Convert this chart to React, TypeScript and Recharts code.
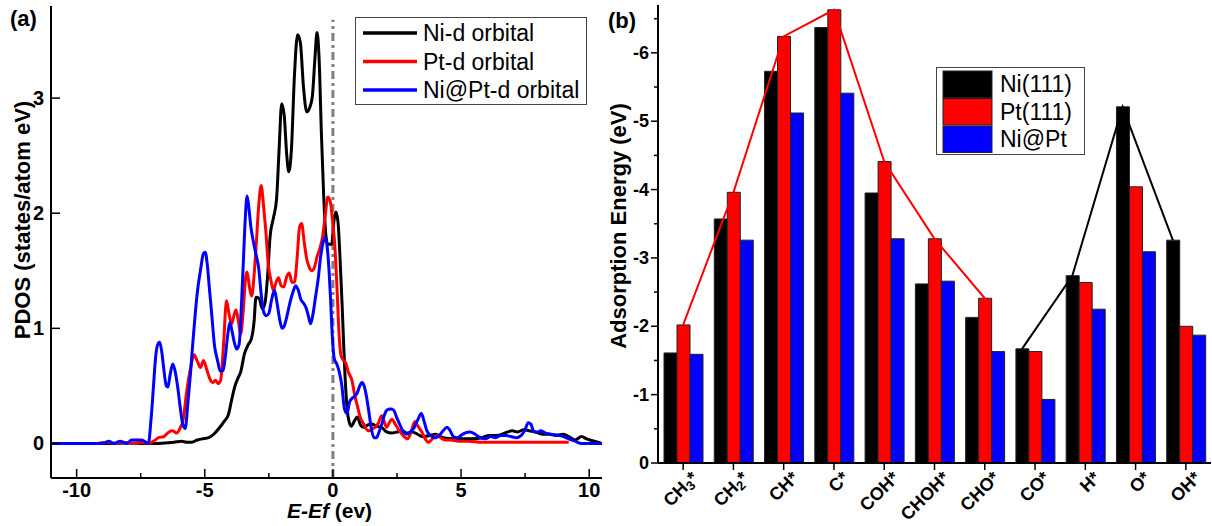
import React from 'react';
import { LineChart, Line, XAxis, YAxis, ReferenceLine, Legend, ComposedChart, Bar } from 'recharts';

const FONT = 'Arial, "Liberation Sans", Helvetica, sans-serif';

// ---------- Panel (a): PDOS ----------
const pdosSeriesNames = ['Ni-d orbital', 'Pt-d orbital', 'Ni@Pt-d orbital'];
const pdosColors = ['#000000', '#ff0000', '#0000ff'];
const energyTicks = [-10, -7.5, -5, -2.5, 0, 2.5, 5, 7.5, 10];
const pdosTicks = [0, 1, 2, 3];

const niD: [number, number][] = [
  [-11, 0], [-9, 0], [-8, 0.005], [-7.3, 0], [-7, 0], [-6.5, 0.005], [-6.2, 0.01], [-5.9, 0.02], [-5.7, 0.01],
  [-5.5, 0.01], [-5.3, 0.03], [-5.1, 0.04], [-4.85, 0.05], [-4.65, 0.08], [-4.45, 0.13], [-4.25, 0.19],
  [-4.08, 0.25], [-3.95, 0.38], [-3.82, 0.5], [-3.7, 0.57], [-3.6, 0.62], [-3.45, 0.78], [-3.3, 0.86],
  [-3.18, 0.91], [-3.08, 1.05], [-3.0, 1.27], [-2.88, 1.26], [-2.75, 1.17], [-2.65, 1.22], [-2.55, 1.45],
  [-2.45, 1.8], [-2.32, 1.96], [-2.2, 2.12], [-2.1, 2.55], [-2.0, 2.95], [-1.9, 2.85], [-1.8, 2.5],
  [-1.72, 2.36], [-1.62, 2.55], [-1.5, 3.2], [-1.38, 3.55], [-1.27, 3.48], [-1.15, 3.1], [-1.02, 2.88],
  [-0.9, 2.92], [-0.8, 3.02], [-0.7, 3.35], [-0.62, 3.57], [-0.54, 3.35], [-0.45, 2.7], [-0.36, 2.15],
  [-0.27, 1.8], [-0.2, 1.73], [-0.05, 1.73], [0.05, 1.95], [0.12, 2.01], [0.2, 1.92], [0.28, 1.6],
  [0.36, 1.2], [0.44, 0.75], [0.52, 0.4], [0.62, 0.2], [0.72, 0.15], [0.85, 0.2], [0.95, 0.23], [1.08, 0.16],
  [1.2, 0.14], [1.35, 0.16], [1.52, 0.17], [1.7, 0.15], [1.9, 0.14], [2.1, 0.1], [2.3, 0.09], [2.5, 0.1],
  [2.7, 0.11], [2.9, 0.09], [3.1, 0.1], [3.3, 0.08], [3.5, 0.06], [3.8, 0.07], [4.0, 0.08], [4.3, 0.05],
  [4.7, 0.04], [5.0, 0.04], [5.4, 0.04], [5.8, 0.05], [6.1, 0.07], [6.4, 0.07], [6.7, 0.09], [7.0, 0.11],
  [7.2, 0.1], [7.45, 0.12], [7.65, 0.11], [7.9, 0.1], [8.2, 0.08], [8.45, 0.08], [8.7, 0.07], [9.0, 0.08],
  [9.2, 0.06], [9.45, 0.03], [9.7, 0.06], [9.9, 0.04], [10.2, 0.02], [10.5, 0],
];

const ptD: [number, number][] = [
  [-9.2, 0], [-8.8, 0.01], [-8.5, 0], [-8.2, 0.01], [-7.8, 0], [-7.5, 0.01], [-7.2, 0], [-7.0, 0.02],
  [-6.8, 0.05], [-6.6, 0.06], [-6.4, 0.1], [-6.25, 0.11], [-6.1, 0.09], [-5.95, 0.14], [-5.85, 0.2],
  [-5.7, 0.46], [-5.55, 0.66], [-5.42, 0.77], [-5.3, 0.72], [-5.17, 0.66], [-5.05, 0.72], [-4.92, 0.64],
  [-4.8, 0.56], [-4.68, 0.53], [-4.58, 0.55], [-4.48, 0.52], [-4.38, 0.55], [-4.27, 0.85], [-4.15, 1.24],
  [-4.05, 1.12], [-3.95, 1.04], [-3.85, 1.12], [-3.78, 1.16], [-3.68, 1.05], [-3.6, 0.95], [-3.5, 1.15],
  [-3.4, 1.45], [-3.35, 1.49], [-3.25, 1.35], [-3.17, 1.28], [-3.08, 1.45], [-3.0, 1.7], [-2.9, 2.05],
  [-2.8, 2.24], [-2.7, 2.05], [-2.62, 1.85], [-2.52, 1.55], [-2.42, 1.42], [-2.32, 1.33], [-2.22, 1.4],
  [-2.12, 1.44], [-2.02, 1.37], [-1.92, 1.36], [-1.8, 1.45], [-1.7, 1.48], [-1.6, 1.4], [-1.5, 1.4],
  [-1.4, 1.6], [-1.3, 1.88], [-1.22, 1.91], [-1.12, 1.75], [-1.02, 1.6], [-0.92, 1.53], [-0.82, 1.5],
  [-0.72, 1.53], [-0.62, 1.62], [-0.5, 1.7], [-0.4, 1.8], [-0.3, 1.98], [-0.2, 2.14], [-0.1, 2.1],
  [-0.02, 1.95], [0.08, 1.7], [0.16, 1.35], [0.24, 0.95], [0.32, 0.76], [0.42, 0.72], [0.5, 0.7],
  [0.6, 0.62], [0.74, 0.55], [0.85, 0.42], [0.95, 0.33], [1.08, 0.22], [1.2, 0.17], [1.32, 0.12],
  [1.42, 0.11], [1.55, 0.13], [1.65, 0.14], [1.78, 0.18], [1.9, 0.24], [2.0, 0.19], [2.1, 0.14], [2.2, 0.18],
  [2.3, 0.21], [2.45, 0.16], [2.62, 0.1], [2.78, 0.06], [2.92, 0.04], [3.05, 0.1], [3.2, 0.19], [3.32, 0.15],
  [3.47, 0.1], [3.6, 0.04], [3.73, 0.01], [3.88, 0.04], [4.06, 0.07], [4.2, 0.05], [4.38, 0.03], [4.6, 0.03],
  [4.9, 0.02], [5.3, 0.02], [5.8, 0.01], [6.3, 0.01], [7, 0.01], [8, 0.01], [9.2, 0.01],
];

const niPtD: [number, number][] = [
  [-11, 0], [-9.2, 0], [-8.9, 0.005], [-8.75, 0.02], [-8.55, 0], [-8.3, 0.02], [-8.05, 0], [-7.85, 0.03],
  [-7.6, 0.03], [-7.45, 0.03], [-7.3, 0.01], [-7.2, 0], [-7.1, 0.2], [-7.0, 0.5], [-6.93, 0.72],
  [-6.85, 0.85], [-6.76, 0.88], [-6.68, 0.8], [-6.6, 0.65], [-6.5, 0.5], [-6.44, 0.49], [-6.35, 0.6],
  [-6.25, 0.69], [-6.15, 0.62], [-6.05, 0.48], [-5.95, 0.3], [-5.85, 0.16], [-5.76, 0.13], [-5.66, 0.35],
  [-5.56, 0.6], [-5.45, 0.92], [-5.37, 1.13], [-5.27, 1.35], [-5.17, 1.5], [-5.05, 1.65], [-4.98, 1.66],
  [-4.9, 1.55], [-4.82, 1.35], [-4.72, 1.1], [-4.62, 0.85], [-4.5, 0.72], [-4.4, 0.63], [-4.3, 0.63],
  [-4.2, 0.75], [-4.1, 0.95], [-4.02, 1.05], [-3.94, 0.98], [-3.85, 0.88], [-3.75, 0.82], [-3.66, 0.86],
  [-3.58, 1.15], [-3.5, 1.55], [-3.42, 1.95], [-3.35, 2.15], [-3.28, 2.05], [-3.2, 1.88], [-3.1, 1.75],
  [-3.0, 1.64], [-2.9, 1.53], [-2.8, 1.3], [-2.7, 1.14], [-2.6, 1.11], [-2.5, 1.13], [-2.4, 1.24],
  [-2.28, 1.33], [-2.18, 1.22], [-2.08, 1.08], [-1.98, 1.0], [-1.9, 1.02], [-1.8, 1.1], [-1.7, 1.2],
  [-1.58, 1.3], [-1.45, 1.37], [-1.35, 1.33], [-1.25, 1.25], [-1.15, 1.22], [-1.05, 1.18], [-0.95, 1.1],
  [-0.87, 1.04], [-0.78, 1.12], [-0.68, 1.27], [-0.58, 1.42], [-0.48, 1.62], [-0.38, 1.75], [-0.3, 1.79],
  [-0.22, 1.7], [-0.15, 1.5], [-0.08, 1.2], [-0.02, 0.92], [0.05, 0.74], [0.15, 0.69], [0.25, 0.62],
  [0.35, 0.5], [0.45, 0.3], [0.55, 0.26], [0.65, 0.36], [0.74, 0.39], [0.85, 0.41], [0.95, 0.44],
  [1.05, 0.5], [1.13, 0.53], [1.22, 0.5], [1.3, 0.42], [1.4, 0.28], [1.5, 0.13], [1.6, 0.05], [1.7, 0.05],
  [1.8, 0.1], [1.91, 0.17], [2.0, 0.24], [2.11, 0.29], [2.25, 0.3], [2.37, 0.29], [2.5, 0.22], [2.62, 0.16],
  [2.75, 0.1], [2.89, 0.08], [3.02, 0.1], [3.15, 0.13], [3.3, 0.2], [3.45, 0.26], [3.55, 0.2], [3.65, 0.12],
  [3.8, 0.07], [4.0, 0.05], [4.15, 0.07], [4.3, 0.11], [4.45, 0.14], [4.55, 0.12], [4.7, 0.06], [4.85, 0.05],
  [5.0, 0.07], [5.15, 0.09], [5.35, 0.1], [5.55, 0.08], [5.75, 0.05], [5.95, 0.04], [6.15, 0.06],
  [6.35, 0.05], [6.55, 0.07], [6.75, 0.07], [6.95, 0.06], [7.15, 0.05], [7.35, 0.07], [7.5, 0.12],
  [7.62, 0.18], [7.72, 0.17], [7.85, 0.1], [8.0, 0.1], [8.1, 0.11], [8.3, 0.09], [8.5, 0.08], [8.8, 0.07],
  [9.0, 0.06], [9.2, 0.04], [9.45, 0.02], [9.7, 0], [10.5, 0],
];

// ---------- Panel (b): adsorption energies ----------
const adsorbates = ['CH3*', 'CH2*', 'CH*', 'C*', 'COH*', 'CHOH*', 'CHO*', 'CO*', 'H*', 'O*', 'OH*'];
const ni111 = [-1.61, -3.57, -5.73, -6.37, -3.95, -2.62, -2.13, -1.67, -2.74, -5.21, -3.26];
const pt111 = [-2.02, -3.96, -6.24, -6.63, -4.41, -3.28, -2.41, -1.63, -2.64, -4.04, -2.0];
const niAtPt = [-1.59, -3.26, -5.12, -5.41, -3.28, -2.66, -1.63, -0.93, -2.25, -3.09, -1.87];
const barSeriesNames = ['Ni(111)', 'Pt(111)', 'Ni@Pt'];
const barColors = ['#000000', '#ff0000', '#0000ff'];
const ptTrendSpecies = ['CH3*', 'CH2*', 'CH*', 'C*', 'COH*', 'CHOH*', 'CHO*'];
const niTrendSpecies = ['CO*', 'H*', 'O*', 'OH*'];
const energyAxisTicks = [-6.5, -6, -5.5, -5, -4.5, -4, -3.5, -3, -2.5, -2, -1.5, -1, -0.5, 0];

const toPoints = (arr: [number, number][]) => arr.map(([x, y]) => ({ x, y }));
const pdosData = [toPoints(niD), toPoints(ptD), toPoints(niPtD)];

const barData = adsorbates.map((name, i) => ({
  name,
  ni: ni111[i],
  pt: pt111[i],
  nipt: niAtPt[i],
  ptTrend: ptTrendSpecies.includes(name) ? pt111[i] : null,
  niTrend: niTrendSpecies.includes(name) ? ni111[i] : null,
}));

const BAR = 13;

// ---------- ticks ----------
const EnergyTick = (props: any) => {
  const { x, y, payload } = props;
  const v = payload.value;
  const major = v % 5 === 0;
  return (
    <g>
      <line x1={x} x2={x} y1={y} y2={y - (major ? 9 : 5)} stroke="#000" strokeWidth={1.5} />
      {major && (
        <text x={x} y={y + 19} textAnchor="middle" fontSize={20} fontWeight="bold" fontFamily={FONT} fill="#000">
          {String(v)}
        </text>
      )}
    </g>
  );
};

const PdosTick = (props: any) => {
  const { x, y, payload } = props;
  return (
    <g>
      <line x1={x} x2={x + 9} y1={y} y2={y} stroke="#000" strokeWidth={1.5} />
      <text x={x - 7} y={y + 7} textAnchor="end" fontSize={20} fontWeight="bold" fontFamily={FONT} fill="#000">
        {String(payload.value)}
      </text>
    </g>
  );
};

const AdsTick = (props: any) => {
  const { x, y, payload } = props;
  const v = payload.value;
  const major = Number.isInteger(v);
  return (
    <g>
      <line x1={x} x2={x - (major ? 7 : 4)} y1={y} y2={y} stroke="#000" strokeWidth={1.5} />
      {major && (
        <text x={x - 9} y={y + 6} textAnchor="end" fontSize={18} fontWeight="bold" fontFamily={FONT} fill="#000">
          {String(v)}
        </text>
      )}
    </g>
  );
};

const SpeciesTick = (props: any) => {
  const { x, y, payload } = props;
  const label = String(payload.value);
  const segs = label.match(/\d+|[^\d]+/g) || [label];
  const ax = x + 16;
  const ay = y + 16;
  let prevDigit = false;
  return (
    <g>
      <line x1={x} x2={x} y1={y} y2={y + 7} stroke="#000" strokeWidth={1.5} />
      <text
        x={ax}
        y={ay}
        textAnchor="end"
        transform={`rotate(-45, ${ax}, ${ay})`}
        fontSize={18}
        fontWeight="bold"
        fontFamily={FONT}
        fill="#000"
      >
        {segs.map((s, i) => {
          const isDigit = /^\d+$/.test(s);
          const dy = isDigit ? 3 : prevDigit ? -3 : 0;
          prevDigit = isDigit;
          return (
            <tspan key={i} fontSize={isDigit ? 13 : 18} dy={dy}>
              {s}
            </tspan>
          );
        })}
      </text>
    </g>
  );
};

// ---------- titles ----------
const makeYTitle = (text: string, dx: number, dy: number) => (p: any) => {
  const vb = p.viewBox || {};
  const cx = (vb.x || 0) + dx;
  const cy = (vb.y || 0) + (vb.height || 0) / 2 + dy;
  return (
    <text
      x={cx}
      y={cy}
      transform={`rotate(-90, ${cx}, ${cy})`}
      textAnchor="middle"
      dominantBaseline="central"
      fontSize={22}
      fontWeight="bold"
      fontFamily={FONT}
      fill="#000"
    >
      {text}
    </text>
  );
};

const EnergyTitle = (p: any) => {
  const vb = p.viewBox || {};
  const cx = (vb.x || 0) + (vb.width || 0) / 2 + 3;
  const cy = (vb.y || 0) + 40;
  return (
    <text x={cx} y={cy} textAnchor="middle" fontSize={21} fontWeight="bold" fontFamily={FONT} fill="#000">
      <tspan fontStyle="italic">E-E</tspan>
      <tspan fontStyle="italic">f</tspan>
      <tspan> (ev)</tspan>
    </text>
  );
};

// ---------- legends ----------
const PdosLegend = () => (
  <svg width={232} height={88} style={{ display: 'block' }}>
    <rect x={0.5} y={0.5} width={231} height={87} fill="#fff" stroke="#444" strokeWidth={1} />
    {pdosSeriesNames.map((n, i) => {
      const cy = 16 + i * 28.5;
      return (
        <g key={n}>
          <line x1={8} x2={62} y1={cy} y2={cy} stroke={pdosColors[i]} strokeWidth={3.5} />
          <text x={68} y={cy + 8} fontSize={23} fontFamily={FONT} fill="#000">
            {n}
          </text>
        </g>
      );
    })}
  </svg>
);

const BarLegend = () => (
  <svg width={149} height={88} style={{ display: 'block' }}>
    <rect x={0.5} y={0.5} width={148} height={87} fill="#fff" stroke="#444" strokeWidth={1} />
    {barSeriesNames.map((n, i) => {
      const top = 4 + i * 27.5;
      return (
        <g key={n}>
          <rect x={7} y={top} width={49} height={26.5} fill={barColors[i]} stroke="#222" strokeWidth={1} />
          <text x={64} y={top + 21} fontSize={23} fontFamily={FONT} fill="#000">
            {n}
          </text>
        </g>
      );
    })}
  </svg>
);

export default function App() {
  return (
    <div style={{ position: 'absolute', left: 0, top: 0, width: 1212, height: 526, background: '#fff', overflow: 'hidden' }}>
      <div style={{ position: 'absolute', left: 0, top: 0 }}>
        <LineChart width={606} height={526} margin={{ top: 6, right: 4, bottom: 0, left: 0 }}>
          <XAxis
            xAxisId="b"
            type="number"
            dataKey="x"
            domain={[-11, 10.5]}
            ticks={energyTicks}
            interval={0}
            allowDataOverflow
            tick={<EnergyTick />}
            tickLine={false}
            tickSize={0}
            tickMargin={0}
            height={48}
            axisLine={{ stroke: '#000', strokeWidth: 2 }}
            label={EnergyTitle}
          />
          <XAxis
            xAxisId="t"
            orientation="top"
            type="number"
            domain={[-11, 10.5]}
            allowDataOverflow
            tick={false}
            tickLine={false}
            height={0}
            axisLine={{ stroke: '#000', strokeWidth: 2 }}
          />
          <YAxis
            yAxisId="l"
            type="number"
            domain={[-0.3, 3.8]}
            ticks={pdosTicks}
            interval={0}
            allowDataOverflow
            tick={<PdosTick />}
            tickLine={false}
            tickSize={0}
            tickMargin={0}
            width={51}
            axisLine={{ stroke: '#000', strokeWidth: 2 }}
            label={makeYTitle('PDOS (states/atom eV)', 22, -22)}
          />
          <YAxis
            yAxisId="r"
            orientation="right"
            type="number"
            domain={[-0.3, 3.8]}
            allowDataOverflow
            tick={false}
            tickLine={false}
            width={0}
            axisLine={{ stroke: '#000', strokeWidth: 2 }}
          />
          <ReferenceLine
            xAxisId="b"
            yAxisId="l"
            segment={[{ x: 0, y: -0.3 }, { x: 0, y: 3.68 }]}
            stroke="#808080"
            strokeWidth={3}
            strokeDasharray="8 4 3 4"
          />
          {pdosData.map((d, i) => (
            <Line
              key={pdosSeriesNames[i]}
              xAxisId="b"
              yAxisId="l"
              data={d}
              dataKey="y"
              name={pdosSeriesNames[i]}
              type="monotone"
              stroke={pdosColors[i]}
              strokeWidth={3}
              dot={false}
              activeDot={false}
              isAnimationActive={false}
            />
          ))}
          <Legend
            layout="horizontal"
            verticalAlign="middle"
            align="center"
            content={<PdosLegend />}
            wrapperStyle={{ position: 'absolute', left: 355, top: 17, width: 232, height: 88 }}
          />
        </LineChart>
      </div>

      <div style={{ position: 'absolute', left: 606, top: 0 }}>
        <ComposedChart
          width={606}
          height={526}
          data={barData}
          margin={{ top: 5, right: 1, bottom: 0, left: 0 }}
          barGap={0}
        >
          <XAxis
            xAxisId="main"
            dataKey="name"
            type="category"
            interval={0}
            tick={<SpeciesTick />}
            tickLine={false}
            tickSize={0}
            tickMargin={0}
            height={63}
            axisLine={{ stroke: '#000', strokeWidth: 2 }}
          />
          <XAxis xAxisId="ni" dataKey="name" type="category" hide padding={{ left: -BAR, right: BAR }} />
          <XAxis
            xAxisId="top"
            orientation="top"
            dataKey="name"
            type="category"
            tick={false}
            tickLine={false}
            height={0}
            axisLine={{ stroke: '#000', strokeWidth: 2 }}
          />
          <YAxis
            yAxisId="e"
            type="number"
            domain={[-6.7, 0]}
            reversed
            ticks={energyAxisTicks}
            interval={0}
            allowDataOverflow
            tick={<AdsTick />}
            tickLine={false}
            tickSize={0}
            tickMargin={0}
            width={52}
            axisLine={{ stroke: '#000', strokeWidth: 2 }}
            label={makeYTitle('Adsorption Energy (eV)', 12, -8)}
          />
          <YAxis
            yAxisId="r"
            orientation="right"
            type="number"
            domain={[-6.7, 0]}
            reversed
            allowDataOverflow
            tick={false}
            tickLine={false}
            width={0}
            axisLine={{ stroke: '#000', strokeWidth: 2 }}
          />
          <Bar xAxisId="main" yAxisId="e" dataKey="ni" name={barSeriesNames[0]} fill={barColors[0]} stroke="#222" strokeWidth={1} barSize={BAR} isAnimationActive={false} />
          <Bar xAxisId="main" yAxisId="e" dataKey="pt" name={barSeriesNames[1]} fill={barColors[1]} stroke="#222" strokeWidth={1} barSize={BAR} isAnimationActive={false} />
          <Bar xAxisId="main" yAxisId="e" dataKey="nipt" name={barSeriesNames[2]} fill={barColors[2]} stroke="#222" strokeWidth={1} barSize={BAR} isAnimationActive={false} />
          <Line xAxisId="main" yAxisId="e" dataKey="ptTrend" type="linear" stroke="#ff0000" strokeWidth={2} dot={false} activeDot={false} isAnimationActive={false} legendType="none" />
          <Line xAxisId="ni" yAxisId="e" dataKey="niTrend" type="linear" stroke="#000000" strokeWidth={2} dot={false} activeDot={false} isAnimationActive={false} legendType="none" />
          <Legend
            layout="horizontal"
            verticalAlign="middle"
            align="center"
            content={<BarLegend />}
            wrapperStyle={{ position: 'absolute', left: 330, top: 67, width: 149, height: 88 }}
          />
        </ComposedChart>
      </div>

      <div style={{ position: 'absolute', left: 10, top: 6, fontFamily: FONT, fontWeight: 'bold', fontSize: 22 }}>(a)</div>
      <div style={{ position: 'absolute', left: 608, top: 8, fontFamily: FONT, fontWeight: 'bold', fontSize: 22 }}>(b)</div>
    </div>
  );
}
